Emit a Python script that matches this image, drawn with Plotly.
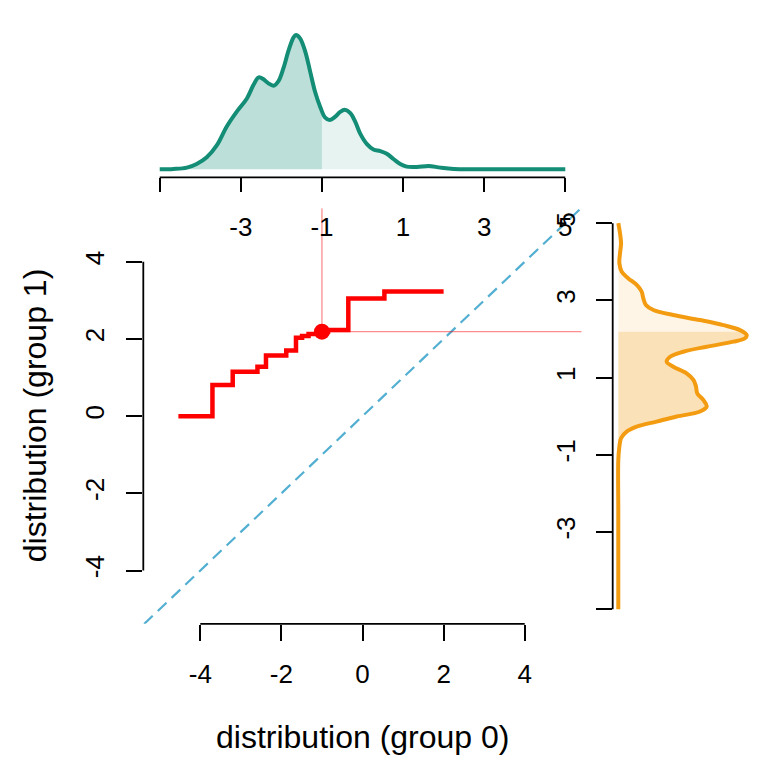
import numpy as np
import plotly.graph_objects as go

# ---------------- data ----------------
# paired quantiles: group 0 (x) vs group 1 (y), drawn as a step line
q0 = [-4.54, -3.70, -3.20, -2.59, -2.38, -1.88, -1.64, -1.49, -1.33, -1.10, -0.85, -0.35, 0.54, 2.00]
q1 = [0.00, 0.81, 1.15, 1.28, 1.57, 1.70, 2.03, 2.08, 2.13, 2.19, 2.23, 3.05, 3.23, 3.23]

# selected quantile pair
sel_x = -1.0
sel_y = 2.19

# density of group 0 (top margin)
dens0_x = [-5.00, -4.66, -4.33, -4.09, -3.84, -3.59, -3.35, -3.10, -2.85, -2.69,
           -2.56, -2.44, -2.32, -2.19, -2.07, -1.95, -1.82, -1.70, -1.64, -1.54,
           -1.41, -1.29, -1.17, -1.04, -0.92, -0.81, -0.67, -0.55, -0.43, -0.30,
           -0.18, -0.06, 0.11, 0.27, 0.44, 0.60, 0.77, 0.93, 1.09, 1.34,
           1.63, 1.92, 2.25, 2.74, 3.50, 4.25, 5.00]
dens0_y = [0.000, 0.001, 0.005, 0.016, 0.036, 0.072, 0.127, 0.172, 0.211, 0.251,
           0.274, 0.268, 0.256, 0.249, 0.263, 0.301, 0.355, 0.393, 0.400, 0.390,
           0.350, 0.291, 0.231, 0.185, 0.154, 0.147, 0.157, 0.171, 0.177, 0.167,
           0.142, 0.107, 0.075, 0.059, 0.054, 0.046, 0.030, 0.016, 0.008, 0.007,
           0.010, 0.005, 0.001, 0.000, 0.000, 0.000, 0.000]

# density of group 1 (right margin)
dens1_y = [5.00, 4.74, 4.48, 4.22, 3.96, 3.74, 3.57, 3.40, 3.23, 3.05,
           2.88, 2.75, 2.62, 2.49, 2.36, 2.23, 2.10, 2.02, 1.93, 1.80,
           1.67, 1.54, 1.41, 1.28, 1.11, 0.94, 0.77, 0.59, 0.42, 0.25,
           0.12, -0.01, -0.14, -0.27, -0.40, -0.57, -0.79, -1.14, -2.50, -4.00,
           -5.00]
dens1_d = [0.000, 0.008, 0.013, 0.008, 0.005, 0.016, 0.047, 0.086, 0.109, 0.117,
           0.129, 0.164, 0.257, 0.382, 0.491, 0.569, 0.600, 0.592, 0.538, 0.413,
           0.304, 0.242, 0.226, 0.257, 0.319, 0.351, 0.363, 0.369, 0.397, 0.413,
           0.382, 0.273, 0.179, 0.086, 0.039, 0.013, 0.005, 0.000, 0.000, 0.000,
           0.000]

main_ticks = [-4, -2, 0, 2, 4]
main_labels = ["-4", "-2", "0", "2", "4"]
marg_ticks = [-5, -3, -1, 1, 3, 5]
marg_labels = ["", "-3", "-1", "1", "3", "5"]

x_title = "distribution (group 0)"
y_title = "distribution (group 1)"

# ---------------- styles ----------------
GREEN = "#138D75"
ORANGE = "#F39C12"
RED = "#FF0000"
BLUE = "#52AFD2"
FONT = "Liberation Sans, Arial, Helvetica, sans-serif"
W = H = 768

def pxx(v):
    return v / W

def pxy(v):
    return 1 - v / H

XR = [-5.405, 5.405]
YR = [-5.38, 5.386]

fig = go.Figure()

# ---- top density (group 0), split fill at selected quantile ----
d0x = np.array(dens0_x)
d0y = np.array(dens0_y)
d_at_x = float(np.interp(sel_x, d0x, d0y))
lm = d0x < sel_x
left_x = list(d0x[lm]) + [sel_x]
left_y = list(d0y[lm]) + [d_at_x]
right_x = [sel_x] + list(d0x[~lm])
right_y = [d_at_x] + list(d0y[~lm])

fig.add_trace(go.Scatter(x=right_x, y=right_y, mode="lines", line=dict(width=0, shape="spline"),
                         fill="tozeroy", fillcolor="rgba(19,141,117,0.10)",
                         xaxis="x2", yaxis="y2", hoverinfo="skip", showlegend=False))
fig.add_trace(go.Scatter(x=left_x, y=left_y, mode="lines", line=dict(width=0, shape="spline"),
                         fill="tozeroy", fillcolor="rgba(19,141,117,0.28)",
                         xaxis="x2", yaxis="y2", hoverinfo="skip", showlegend=False))
fig.add_trace(go.Scatter(x=dens0_x, y=dens0_y, mode="lines",
                         line=dict(color=GREEN, width=4, shape="spline"),
                         xaxis="x2", yaxis="y2", showlegend=False))

# ---- right density (group 1), split fill at selected quantile ----
d1y = np.array(dens1_y)
d1d = np.array(dens1_d)
order = np.argsort(d1y)
d_at_y = float(np.interp(sel_y, d1y[order], d1d[order]))
um = d1y > sel_y
up_y = list(d1y[um]) + [sel_y]
up_d = list(d1d[um]) + [d_at_y]
lo_y = [sel_y] + list(d1y[~um])
lo_d = [d_at_y] + list(d1d[~um])

fig.add_trace(go.Scatter(x=up_d, y=up_y, mode="lines", line=dict(width=0, shape="spline"),
                         fill="tozerox", fillcolor="rgba(243,156,18,0.10)",
                         xaxis="x3", yaxis="y3", hoverinfo="skip", showlegend=False))
fig.add_trace(go.Scatter(x=lo_d, y=lo_y, mode="lines", line=dict(width=0, shape="spline"),
                         fill="tozerox", fillcolor="rgba(243,156,18,0.30)",
                         xaxis="x3", yaxis="y3", hoverinfo="skip", showlegend=False))
fig.add_trace(go.Scatter(x=dens1_d, y=dens1_y, mode="lines",
                         line=dict(color=ORANGE, width=4, shape="spline"),
                         xaxis="x3", yaxis="y3", showlegend=False))

# ---- main panel ----
# identity line
fig.add_trace(go.Scatter(x=[XR[0] - 1, XR[1] + 1], y=[XR[0] - 1, XR[1] + 1], mode="lines",
                         line=dict(color=BLUE, width=2.2, dash="12px,7px"),
                         xaxis="x", yaxis="y", showlegend=False))
# reference lines through the selected quantile pair
fig.add_trace(go.Scatter(x=[sel_x, sel_x], y=[sel_y, YR[1]], mode="lines",
                         line=dict(color="rgba(255,0,0,0.45)", width=1.3),
                         xaxis="x", yaxis="y", showlegend=False))
fig.add_trace(go.Scatter(x=[sel_x, XR[1]], y=[sel_y, sel_y], mode="lines",
                         line=dict(color="rgba(255,0,0,0.45)", width=1.3),
                         xaxis="x", yaxis="y", showlegend=False))
# step line
fig.add_trace(go.Scatter(x=q0, y=q1, mode="lines",
                         line=dict(color=RED, width=4.5, shape="hv"),
                         xaxis="x", yaxis="y", showlegend=False))
fig.add_trace(go.Scatter(x=[sel_x], y=[sel_y], mode="markers",
                         marker=dict(color=RED, size=16),
                         xaxis="x", yaxis="y", showlegend=False, cliponaxis=False))

tickfont = dict(family=FONT, size=26, color="black")
common = dict(showgrid=False, zeroline=False, showline=False, ticks="outside",
              tickcolor="black", tickwidth=1.8, tickfont=tickfont)

main_xdom = [pxx(143.3), pxx(581.7)]
main_ydom = [pxy(623.8), pxy(208.3)]

fig.update_layout(
    width=W, height=H, margin=dict(l=0, r=0, t=0, b=0),
    paper_bgcolor="white", plot_bgcolor="rgba(0,0,0,0)",
    font=dict(family=FONT, color="black"),
    showlegend=False,
    xaxis=dict(domain=main_xdom, range=XR, anchor="y", tickvals=main_ticks, ticktext=main_labels,
               ticklen=16, ticklabelstandoff=11, **common),
    yaxis=dict(domain=main_ydom, range=YR, anchor="x", tickvals=main_ticks, ticktext=main_labels,
               ticklen=16, tickangle=-90, ticklabelstandoff=12, **common),
    xaxis2=dict(domain=main_xdom, range=XR, anchor="y2", tickvals=marg_ticks, ticktext=marg_labels,
                ticklen=14, ticklabelstandoff=12, **common),
    yaxis2=dict(domain=[pxy(177.3), pxy(20)], range=[-0.02383, 0.44468], anchor="x2", visible=False),
    xaxis3=dict(domain=[pxx(612.7), 1.0], range=[-0.02617, 0.6995], anchor="y3", visible=False),
    yaxis3=dict(domain=main_ydom, range=YR, anchor="x3", tickvals=marg_ticks, ticktext=marg_labels,
                ticklen=16, tickangle=-90, ticklabelstandoff=10, **common),
)

axis_line = dict(color="black", width=1.8)
fig.add_shape(type="line", xref="x", yref="paper", x0=main_ticks[0], x1=main_ticks[-1],
              y0=main_ydom[0], y1=main_ydom[0], line=axis_line)
fig.add_shape(type="line", xref="paper", yref="y", x0=main_xdom[0], x1=main_xdom[0],
              y0=main_ticks[0], y1=main_ticks[-1], line=axis_line)
fig.add_shape(type="line", xref="x2", yref="paper", x0=marg_ticks[0], x1=marg_ticks[-1],
              y0=pxy(177.3), y1=pxy(177.3), line=axis_line)
fig.add_shape(type="line", xref="paper", yref="y3", x0=pxx(612.7), x1=pxx(612.7),
              y0=marg_ticks[0], y1=marg_ticks[-1], line=axis_line)

fig.add_annotation(text=x_title, xref="paper", yref="paper", x=pxx(362.3), y=pxy(737),
                   xanchor="center", yanchor="middle", showarrow=False,
                   font=dict(family=FONT, size=32, color="black"))
fig.add_annotation(text=y_title, xref="paper", yref="paper", x=pxx(35), y=pxy(416.2),
                   xanchor="center", yanchor="middle", showarrow=False, textangle=-90,
                   font=dict(family=FONT, size=32, color="black"))

fig.write_html("out.html")
